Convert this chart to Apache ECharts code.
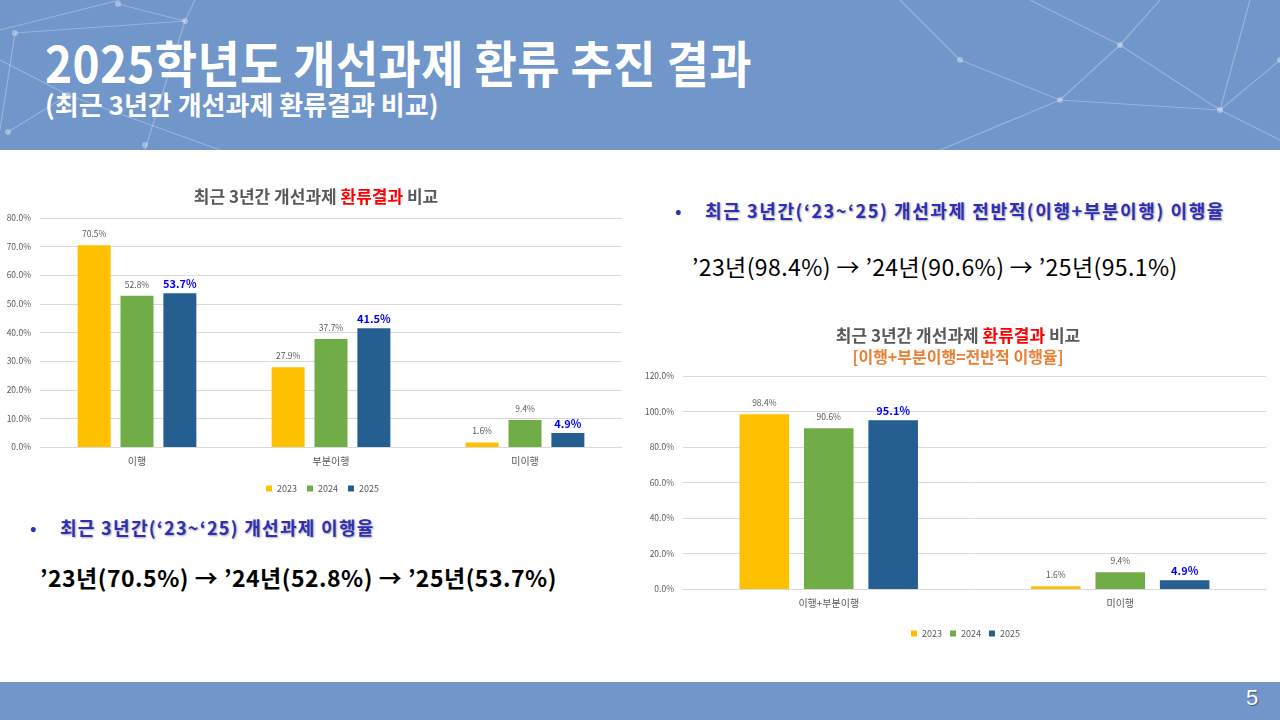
<!DOCTYPE html>
<html>
<head>
<meta charset="utf-8">
<script src="https://cdn.jsdelivr.net/npm/echarts@6/dist/echarts.min.js"></script>
<style>
  html, body { margin: 0; padding: 0; }
  body { width: 1280px; height: 720px; position: relative; overflow: hidden; background: #fff;
         font-family: "Noto Sans CJK KR", "Noto Sans", sans-serif; }
  .band { position: absolute; left: 0; width: 1280px; background: #7096CA; }
  #head { top: 0; height: 150px; }
  #foot { top: 682px; height: 38px; }
  #deco { position: absolute; left: 0; top: 0; }
  .title { position: absolute; left: 45px; top: 26px; color: #fff; font-size: 46px; font-weight: 700;
           letter-spacing: 0.3px; white-space: nowrap; transform: scaleY(1.08); transform-origin: left top; }
  .sub { position: absolute; left: 45px; top: 85px; color: #fff; font-size: 26px; font-weight: 700;
         letter-spacing: 0px; white-space: nowrap; }
  .pg { position: absolute; left: 1246px; top: 685px; color: #fff; font-size: 22px;
        font-family: "Liberation Sans", sans-serif; text-shadow: 1px 1px 1px rgba(0,0,0,0.4); }
  .bul { position: absolute; color: #2E2EB8; font-size: 18px; font-weight: 700; white-space: nowrap;
         text-shadow: 1px 1px 2px rgba(0,0,0,0.35); letter-spacing: 1.6px; }
  .dot { position: absolute; color: #2E2EB8; font-size: 17px; font-weight: 700; }
  .rate { position: absolute; color: #000; font-size: 23px; white-space: nowrap; }
  .chart { position: absolute; }
</style>
</head>
<body>
<div class="band" id="head"></div>
<svg id="deco" width="1280" height="150">
  <g stroke="rgba(255,255,255,0.28)" stroke-width="1.2" fill="none">
    <line x1="0" y1="30" x2="120" y2="0"/>
    <line x1="15" y1="33" x2="185" y2="21"/>
    <line x1="185" y1="21" x2="145" y2="150"/>
    <line x1="118" y1="4" x2="185" y2="21"/>
    <line x1="15" y1="33" x2="0" y2="130"/>
    <line x1="8" y1="132" x2="68" y2="95"/>
    <line x1="185" y1="21" x2="195" y2="0"/>
    <line x1="0" y1="60" x2="68" y2="95"/>
    <line x1="68" y1="95" x2="220" y2="150"/>
    <line x1="1030" y1="0" x2="1120" y2="45"/>
    <line x1="1120" y1="45" x2="1220" y2="110"/>
    <line x1="1220" y1="110" x2="1280" y2="60"/>
    <line x1="1120" y1="45" x2="1060" y2="100"/>
    <line x1="1060" y1="100" x2="940" y2="150"/>
    <line x1="1060" y1="100" x2="1220" y2="110"/>
    <line x1="1220" y1="110" x2="1250" y2="0"/>
    <line x1="1120" y1="45" x2="1160" y2="0"/>
    <line x1="960" y1="60" x2="1060" y2="100"/>
    <line x1="960" y1="60" x2="900" y2="0"/>
    <line x1="1220" y1="110" x2="1280" y2="140"/>
  </g>
  <g fill="rgba(255,255,255,0.35)">
    <circle cx="15" cy="33" r="3"/><circle cx="185" cy="21" r="3"/><circle cx="118" cy="4" r="3"/>
    <circle cx="68" cy="95" r="3"/><circle cx="8" cy="132" r="3"/><circle cx="145" cy="145" r="3"/>
    <circle cx="1120" cy="45" r="3"/><circle cx="1220" cy="110" r="3"/><circle cx="1060" cy="100" r="3"/>
    <circle cx="960" cy="60" r="3"/><circle cx="1280" cy="60" r="3"/>
  </g>
</svg>
<div class="title">2025학년도 개선과제 환류 추진 결과</div>
<div class="sub">(최근 3년간 개선과제 환류결과 비교)</div>

<div class="band" id="foot"></div>
<div class="pg">5</div>

<div class="chart" id="c1" style="left:0;top:175px;width:640px;height:330px;"></div>
<div class="chart" id="c2" style="left:640px;top:310px;width:640px;height:340px;"></div>

<div class="dot" style="left:30px;top:515px;">•</div>
<div class="bul" style="left:60px;top:514px;letter-spacing:1.3px;">최근 3년간(‘23~‘25) 개선과제 이행율</div>
<div class="rate" style="left:40px;top:560px;font-weight:700;letter-spacing:0.5px;">’23년(70.5%) → ’24년(52.8%) → ’25년(53.7%)</div>

<div class="dot" style="left:675px;top:198px;">•</div>
<div class="bul" style="left:705px;top:197px;">최근 3년간(‘23~‘25) 개선과제 전반적(이행+부분이행) 이행율</div>
<div class="rate" style="left:692px;top:249px;letter-spacing:0.4px;">’23년(98.4%) → ’24년(90.6%) → ’25년(95.1%)</div>

<script>
// 범례/계열
const years = ['2023', '2024', '2025'];
const colors = ['#FFC000', '#70AD47', '#255E91'];

// 왼쪽 차트: 이행 / 부분이행 / 미이행
const cats1 = ['이행', '부분이행', '미이행'];
const y2023a = [70.5, 27.9, 1.6];
const y2024a = [52.8, 37.7, 9.4];
const y2025a = [53.7, 41.5, 4.9];
const yMax1 = 80, yStep1 = 10;

// 오른쪽 차트: 이행+부분이행 / 미이행
const cats2 = ['이행+부분이행', '미이행'];
const y2023b = [98.4, 1.6];
const y2024b = [90.6, 9.4];
const y2025b = [95.1, 4.9];
const yMax2 = 120, yStep2 = 20;

const gray = '#595959';
const pct = v => v.toFixed(1) + '%';

function makeSeries(data) {
  return data.map((d, i) => ({
    name: years[i],
    type: 'bar',
    data: d,
    barWidth: '17%',
    barGap: '30%',
    itemStyle: { color: colors[i] },
    label: i === 2
      ? { show: true, position: 'top', distance: 4, color: '#0000FF', fontSize: 11, fontWeight: 'bold',
          formatter: p => pct(p.value) }
      : { show: true, position: 'top', distance: 7, color: gray, fontSize: 8.5,
          formatter: p => pct(p.value) }
  }));
}

function baseOption(cats, max, step, grid) {
  return {
    animation: false,
    textStyle: { fontFamily: '"Noto Sans CJK KR", sans-serif' },
    grid: grid,
    xAxis: {
      type: 'category', data: cats,
      axisLine: { lineStyle: { color: '#D9D9D9' } },
      axisTick: { show: false },
      axisLabel: { color: gray, fontSize: 10, margin: 9 }
    },
    yAxis: {
      type: 'value', min: 0, max: max, interval: step,
      axisLabel: { color: gray, fontSize: 8.5, formatter: pct, margin: 9 },
      splitLine: { lineStyle: { color: '#D9D9D9' } },
      axisLine: { show: false }, axisTick: { show: false }
    }
  };
}

const c1 = echarts.init(document.getElementById('c1'));
const o1 = baseOption(cats1, yMax1, yStep1, { left: 40, right: 18, top: 43, bottom: 58 });
o1.title = {
  text: '{a|최근 3년간 개선과제 }{r|환류결과}{a| 비교}',
  left: 311, top: 8, textAlign: 'center',
  textStyle: { rich: {
    a: { fontSize: 17, fontWeight: 'bold', color: gray },
    r: { fontSize: 17, fontWeight: 'bold', color: '#FF0000' }
  } }
};
o1.legend = {
  data: years, top: 304, left: 261,
  icon: 'rect', itemWidth: 6, itemHeight: 6, itemGap: 10,
  textStyle: { color: gray, fontSize: 9 }
};
o1.series = makeSeries([y2023a, y2024a, y2025a]);
c1.setOption(o1);

const c2 = echarts.init(document.getElementById('c2'));
const o2 = baseOption(cats2, yMax2, yStep2, { left: 43, right: 14, top: 66, bottom: 61 });
o2.title = {
  text: '{a|최근 3년간 개선과제 }{r|환류결과}{a| 비교}\n{o|[이행+부분이행=전반적 이행율]}',
  left: 313, top: 10, textAlign: 'center',
  textStyle: { lineHeight: 21, rich: {
    a: { fontSize: 17, fontWeight: 'bold', color: gray, lineHeight: 21 },
    r: { fontSize: 17, fontWeight: 'bold', color: '#FF0000', lineHeight: 21 },
    o: { fontSize: 16, fontWeight: 'bold', color: '#ED7D31', lineHeight: 21 }
  } }
};
o2.legend = {
  data: years, top: 314, left: 266,
  icon: 'rect', itemWidth: 6, itemHeight: 6, itemGap: 8,
  textStyle: { color: gray, fontSize: 9 }
};
o2.series = makeSeries([y2023b, y2024b, y2025b]);
c2.setOption(o2);
</script>
</body>
</html>
